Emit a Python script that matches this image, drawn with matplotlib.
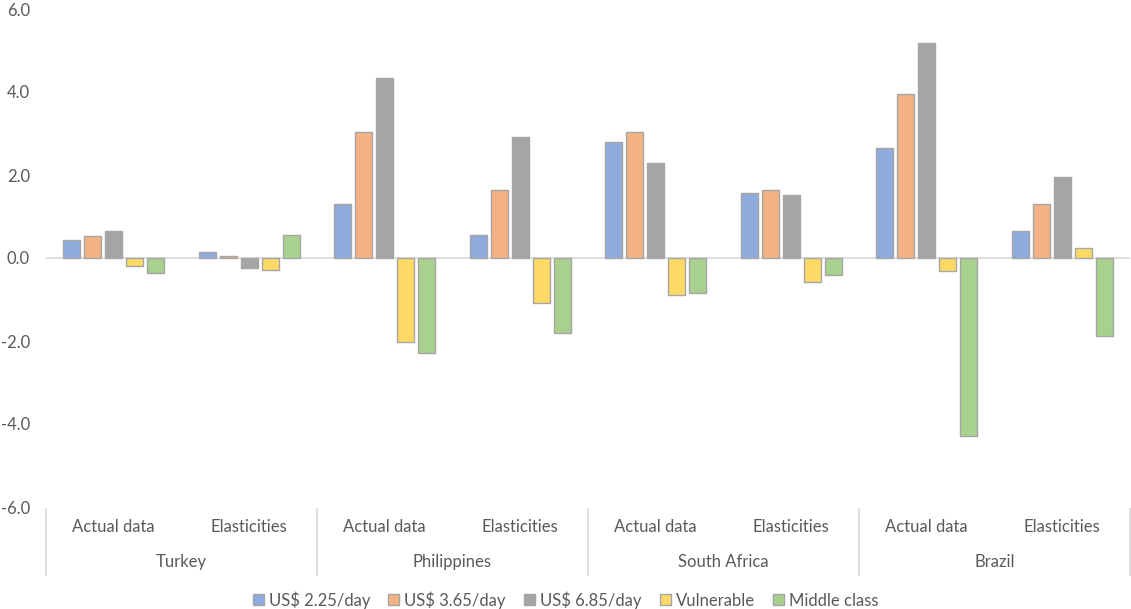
import numpy as np
import matplotlib
matplotlib.use("Agg")
import matplotlib.pyplot as plt
from matplotlib.transforms import blended_transform_factory

plt.rcParams['font.family'] = ['Lato', 'DejaVu Sans']

countries = ["Turkey", "Philippines", "South Africa", "Brazil"]
methods = ["Actual data", "Elasticities"]
series = ["US$ 2.25/day", "US$ 3.65/day", "US$ 6.85/day", "Vulnerable", "Middle class"]

# one value per (country, method) in the order above
us225 = [0.43, 0.14, 1.30, 0.55, 2.79, 1.56, 2.65, 0.66]
us365 = [0.52, 0.06, 3.04, 1.63, 3.04, 1.63, 3.96, 1.29]
us685 = [0.65, -0.24, 4.34, 2.92, 2.30, 1.53, 5.18, 1.95]
vulnerable = [-0.19, -0.30, -2.02, -1.09, -0.88, -0.59, -0.31, 0.24]
middle = [-0.37, 0.55, -2.28, -1.80, -0.85, -0.40, -4.29, -1.89]

colors = ["#8FAADC", "#F4B183", "#A5A5A5", "#FFD966", "#A9D18E"]
text_col = "#595959"
line_col = "#D9D9D9"
fs = 12

W, H = 1131, 609
fig = plt.figure(figsize=(W / 100, H / 100), dpi=100)
ax = fig.add_axes([46 / W, (H - 507) / H, (1130 - 46) / W, 498 / H])

x = np.arange(len(us225))
pitch = 0.155
width = 0.125
values = [us225, us365, us685, vulnerable, middle]
for i, (vals, c, name) in enumerate(zip(values, colors, series)):
    ax.bar(x + (i - 2) * pitch, vals, width, color=c, edgecolor="#A5A5A5",
           linewidth=1.0, label=name, zorder=3)

ax.axhline(0, color=line_col, linewidth=1.2, zorder=2)
ax.set_xlim(-0.5, len(x) - 0.5)
ax.set_ylim(-6, 6)
ax.set_yticks(np.arange(-6, 7, 2))
ax.set_yticklabels([f"{v:.1f}" for v in np.arange(-6, 7, 2)])
ax.tick_params(axis="y", length=0, pad=11.5, labelsize=fs, labelcolor=text_col)
ax.tick_params(axis="x", length=0, labelbottom=False)
for s in ax.spines.values():
    s.set_visible(False)

# two-level category axis below the plot
px = 1 / 498  # one pixel in axes fraction (vertical)
tr = blended_transform_factory(ax.transData, ax.transAxes)
for k in range(len(countries) + 1):
    xb = -0.5 + 2 * k
    ax.plot([xb, xb], [-2 * px, -68 * px], color=line_col, lw=1.2,
            transform=tr, clip_on=False)
for j in range(len(x)):
    ax.text(x[j], -20 * px, methods[j % 2], transform=tr, ha="center", va="center",
            fontsize=fs, color=text_col)
for k, name in enumerate(countries):
    ax.text(2 * k + 0.5, -55 * px, name, transform=tr, ha="center", va="center",
            fontsize=fs, color=text_col)

leg = fig.legend(loc="center", bbox_to_anchor=(0.5, (H - 600) / H), ncol=5,
                 frameon=False, fontsize=fs, handlelength=0.65, handleheight=0.65,
                 handletextpad=0.3, columnspacing=1.1, labelcolor=text_col)

fig.savefig("out.png", dpi=100)
